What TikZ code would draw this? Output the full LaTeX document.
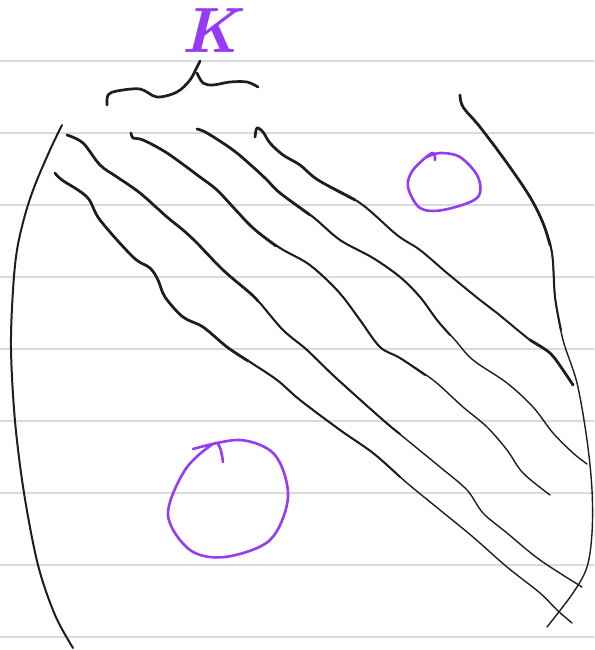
\documentclass[tikz,border=0pt]{standalone}
\definecolor{inkc}{RGB}{30,30,30}
\definecolor{purp}{RGB}{150,60,245}
\definecolor{rulec}{RGB}{218,218,218}
\begin{document}
\begin{tikzpicture}[x=1pt,y=-1pt,
  ink/.style={draw=inkc,line cap=round,line join=round},
  thick ink/.style={ink,line width=2.7pt},
  mid ink/.style={ink,line width=2.0pt},
  thin ink/.style={ink,line width=1.4pt},
  pen/.style={draw=purp,line cap=round,line join=round,line width=2.6pt},
  ruling/.style={draw=rulec,line width=1.8pt},
  smoothline/.style={smooth,tension=0.55}]
\useasboundingbox (0,0) rectangle (594,650);
\fill[white] (0,0) rectangle (594,650);
% ruled paper
\foreach \y in {61,133,205,277,349,421,493,565,637}
  \draw[ruling] (0,\y) -- (594,\y);
% label K
\node[text=purp,font=\fontsize{64}{64}\selectfont\bfseries\itshape,inner sep=0pt] (K) at (210,31) {K};
% brace
\draw[thick ink] plot[smoothline] coordinates {(107,105) (108,95) (117,91) (140,89) (157,97) (177,92) (190,80) (197,67) (200,61)};
\draw[thick ink] plot[smoothline] coordinates {(197,73) (203,83) (213,85) (230,82) (247,82) (258,87)};
% left bracket
\draw[mid ink] plot[smoothline] coordinates {(62,125) (50,150) (35,185) (25,215) (17,250) (13,290) (11,349) (15,421) (24,493) (38,565) (55,615) (73,648)};
% right bracket
\draw[thin ink] plot[smoothline] coordinates {(460,95) (463,107) (480,127) (507,163) (530,197) (543,223) (552,253) (555,297) (563,340) (577,383) (587,440) (592,490) (592,533) (587,567) (573,593) (547,627)};
\draw[mid ink] plot[smoothline] coordinates {(460,95) (463,107) (480,127) (507,163) (530,197) (543,223) (552,253) (555,297) (561,330)};
\draw[thick ink] plot[smoothline] coordinates {(460,95) (463,107) (480,127) (507,163) (530,197) (543,223) (550,245)};
% band line A
\draw[thin ink] plot[smoothline] coordinates {(55,173) (62,180) (87,197) (100,220) (133,257) (150,268) (158,280) (165,297) (183,317) (203,327) (227,347) (250,362) (277,380) (300,400) (340,430) (373,453) (407,483) (440,510) (473,537) (507,567) (540,593) (557,610) (572,623)};
\draw[mid ink] plot[smoothline] coordinates {(55,173) (62,180) (87,197) (100,220) (133,257) (150,268) (158,280) (165,297) (183,317) (203,327) (227,347) (250,362) (277,380) (300,400) (340,430) (373,453) (400,477)};
\draw[thick ink] plot[smoothline] coordinates {(55,173) (62,180) (87,197) (100,220) (133,257) (150,268) (158,280) (165,297) (183,317) (203,327) (227,347) (248,361)};
% band line B
\draw[thin ink] plot[smoothline] coordinates {(67,135) (83,143) (100,165) (117,177) (140,193) (167,217) (183,230) (197,243) (223,270) (250,293) (260,303) (283,330) (307,350) (335,377) (383,420) (407,440) (440,467) (467,490) (483,513) (507,533) (540,560) (582,587)};
\draw[mid ink] plot[smoothline] coordinates {(67,135) (83,143) (100,165) (117,177) (140,193) (167,217) (183,230) (197,243) (223,270) (250,293) (260,303) (283,330) (307,350) (335,377) (383,420) (400,434)};
\draw[thick ink] plot[smoothline] coordinates {(67,135) (83,143) (100,165) (117,177) (140,193) (167,217) (183,230) (197,243) (223,270) (250,293) (258,301)};
% band line C
\draw[thin ink] plot[smoothline] coordinates {(131,133) (133,138) (143,140) (167,153) (200,177) (217,190) (233,207) (253,228) (280,248) (307,263) (327,280) (343,297) (360,320) (380,347) (400,358) (433,380) (463,407) (487,427) (507,450) (523,473) (550,495)};
\draw[mid ink] plot[smoothline] coordinates {(131,133) (133,138) (143,140) (167,153) (200,177) (217,190) (233,207) (253,228) (280,248) (307,263) (327,280) (343,297) (360,320) (380,347) (400,358) (425,375)};
\draw[thick ink] plot[smoothline] coordinates {(131,133) (133,138) (143,140) (167,153) (200,177) (217,190) (233,207) (253,228) (276,246)};
% band line D
\draw[thin ink] plot[smoothline] coordinates {(197,129) (207,133) (233,150) (253,167) (267,180) (280,193) (313,217) (340,240) (373,258) (400,277) (420,297) (437,320) (455,340) (473,360) (507,383) (533,407) (553,433) (573,453) (587,464)};
\draw[mid ink] plot[smoothline] coordinates {(197,129) (207,133) (233,150) (253,167) (267,180) (280,193) (313,217) (340,240) (373,258) (400,277) (420,297) (437,320) (450,335)};
\draw[thick ink] plot[smoothline] coordinates {(197,129) (207,133) (233,150) (253,167) (267,180) (280,193) (310,215)};
% band line E
\draw[mid ink] plot[smoothline] coordinates {(255,137) (257,128) (263,132) (270,143) (283,155) (300,165) (318,180) (360,203) (397,235) (420,250) (447,273) (480,300) (497,313) (530,340) (550,353) (563,370) (573,385)};
\draw[thick ink] plot[smoothline] coordinates {(255,137) (257,128) (263,132) (270,143) (283,155) (300,165) (318,180) (355,200)};
\draw[thick ink] plot[smoothline] coordinates {(530,340) (550,353) (563,370) (573,385)};
% circles
\draw[pen] plot[smoothline] coordinates {(435,160) (432,153) (413,170) (408,187) (420,208) (443,210) (477,198) (478,177) (460,157) (440,153) (427,157)};
\draw[pen] plot[smoothline] coordinates {(223,462) (220,448) (213,444) (185,470) (168,515) (190,550) (225,557) (270,540) (288,497) (275,455) (240,440) (193,449)};
\end{tikzpicture}
\end{document}
